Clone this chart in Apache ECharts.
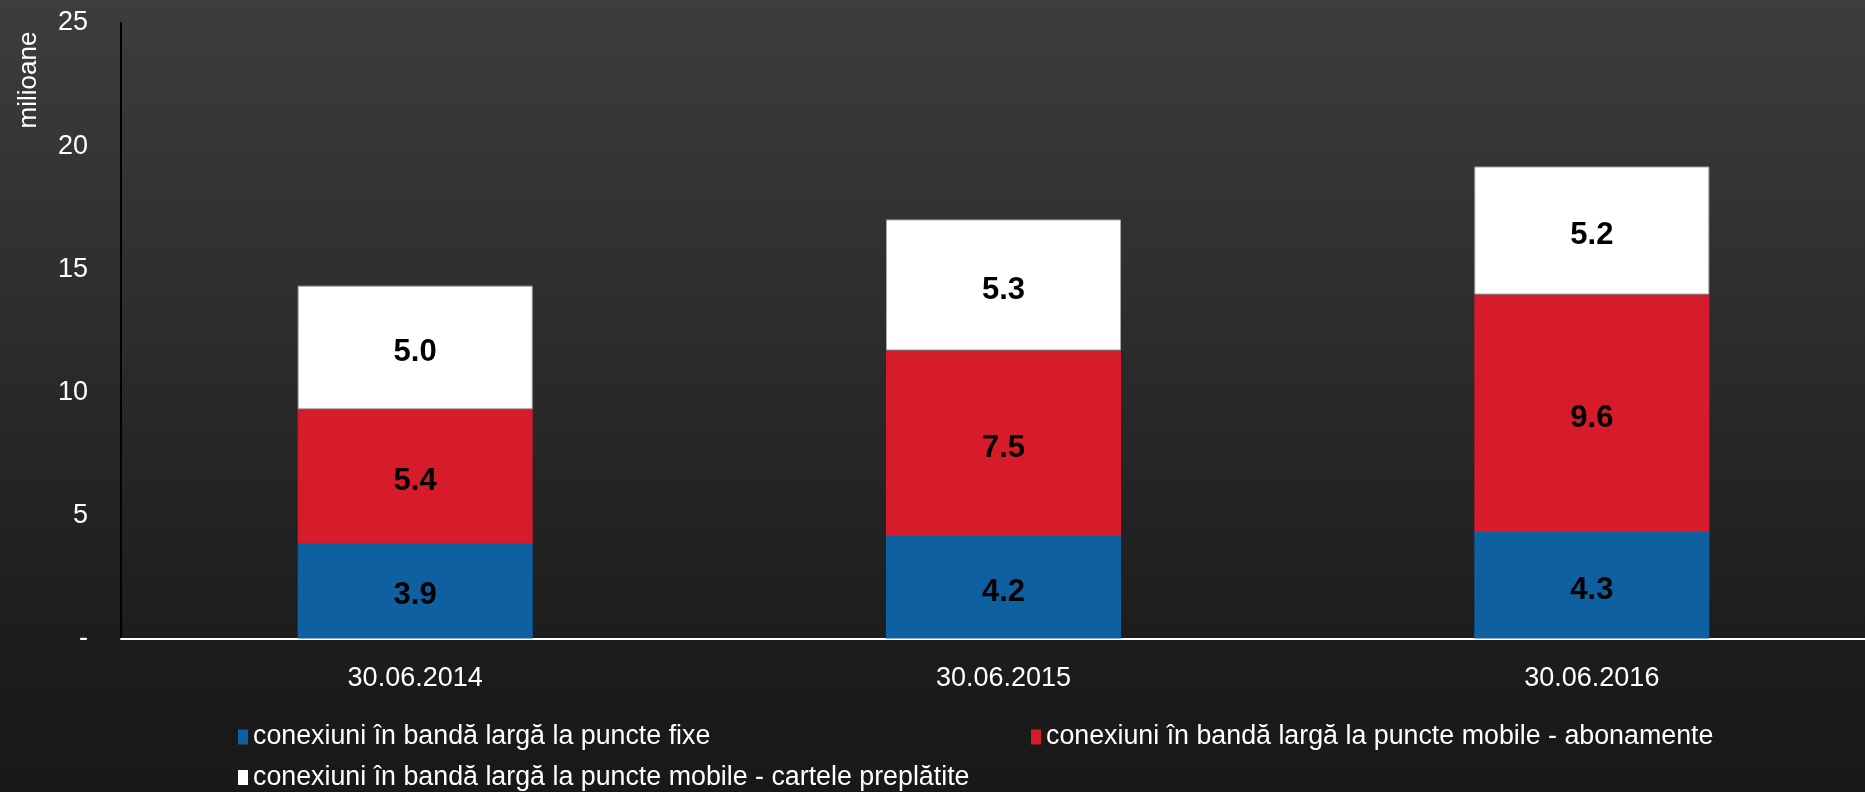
<!DOCTYPE html>
<html>
<head>
<meta charset="utf-8">
<script src="https://cdn.jsdelivr.net/npm/echarts@6/dist/echarts.min.js"></script>
<style>
html,body{margin:0;padding:0;background:#1a1a1a;}
#chart{width:1865px;height:792px;}
</style>
</head>
<body>
<div id="chart"></div>
<script>
// ---- data ----
const categories = ['30.06.2014', '30.06.2015', '30.06.2016'];
const seriesNames = [
  'conexiuni în bandă largă la puncte fixe',
  'conexiuni în bandă largă la puncte mobile - abonamente',
  'conexiuni în bandă largă la puncte mobile - cartele preplătite'
];
const fixe = [3.88, 4.16, 4.33];
const abonamente = [5.43, 7.54, 9.64];
const cartele = [5.02, 5.32, 5.20];
const yTicks = { min: 0, max: 25, interval: 5 };
const yAxisTitle = 'milioane';

const FONT = 'Liberation Sans';
const colors = ['#0f60a1', '#d61c2a', '#ffffff'];

// legend font size fitted to the reference text widths
function measure(text, size, fam) {
  const ctx = document.createElement('canvas').getContext('2d');
  ctx.font = size + 'px "' + fam + '"';
  return ctx.measureText(text).width;
}
const legendTargets = [458, 664, 719];
let legendSize = 0;
seriesNames.forEach((n, i) => { legendSize += legendTargets[i] / measure(n, 100, FONT) * 100; });
legendSize = Math.round(legendSize / 3 * 10) / 10;

const chart = echarts.init(document.getElementById('chart'), null, { renderer: 'canvas' });

const legendCommon = {
  orient: 'horizontal',
  padding: 0,
  itemWidth: 10,
  itemHeight: 15,
  icon: 'rect',
  itemStyle: { borderWidth: 0 },
  textStyle: { color: '#ffffff', fontFamily: FONT, fontSize: legendSize, lineHeight: 30 },
  selectedMode: false
};

const labelStyle = {
  show: true,
  position: 'inside',
  offset: [0, 5],
  color: '#000000',
  fontFamily: FONT,
  fontWeight: 'bold',
  fontSize: 31,
  formatter: p => p.value.toFixed(1)
};

chart.setOption({
  backgroundColor: {
    type: 'linear', x: 0, y: 0, x2: 0, y2: 1,
    colorStops: [
      { offset: 0, color: '#3d3d3d' },
      { offset: 0.8, color: '#1d1d1d' },
      { offset: 1, color: '#181818' }
    ]
  },
  animation: false,
  grid: { left: 121, width: 1765, top: 23, bottom: 153.5, containLabel: false, outerBoundsMode: 'none' },
  legend: [
    Object.assign({}, legendCommon, { data: [seriesNames[0]], left: 238, top: 722 }),
    Object.assign({}, legendCommon, { data: [seriesNames[1]], left: 1031, top: 722 }),
    Object.assign({}, legendCommon, { data: [seriesNames[2]], left: 238, top: 762.5 })
  ],
  graphic: [{
    type: 'text',
    x: 29, y: 80,
    rotation: Math.PI / 2,
    style: {
      text: yAxisTitle,
      fill: '#ffffff',
      font: '26px "' + FONT + '"',
      textAlign: 'center',
      textVerticalAlign: 'middle'
    }
  }],
  xAxis: {
    type: 'category',
    data: categories,
    axisLine: { show: true, lineStyle: { color: '#ffffff', width: 2 } },
    axisTick: { show: false },
    axisLabel: { color: '#ffffff', fontFamily: FONT, fontSize: 27, margin: 27 },
    splitLine: { show: false }
  },
  yAxis: {
    type: 'value',
    min: yTicks.min, max: yTicks.max, interval: yTicks.interval,
    axisLine: { show: true, lineStyle: { color: '#000000', width: 2 } },
    axisTick: { show: false },
    splitLine: { show: false },
    axisLabel: {
      color: '#ffffff', fontFamily: FONT, fontSize: 27, margin: 33,
      formatter: v => (v === 0 ? '-' : String(v))
    }
  },
  series: [
    { name: seriesNames[0], type: 'bar', stack: 'total', data: fixe, barWidth: 235,
      itemStyle: { color: colors[0] }, label: labelStyle },
    { name: seriesNames[1], type: 'bar', stack: 'total', data: abonamente, barWidth: 235,
      itemStyle: { color: colors[1] }, label: labelStyle },
    { name: seriesNames[2], type: 'bar', stack: 'total', data: cartele, barWidth: 235,
      itemStyle: { color: colors[2], borderColor: '#a8a8a8', borderWidth: 1 }, label: labelStyle }
  ]
});
</script>
</body>
</html>
